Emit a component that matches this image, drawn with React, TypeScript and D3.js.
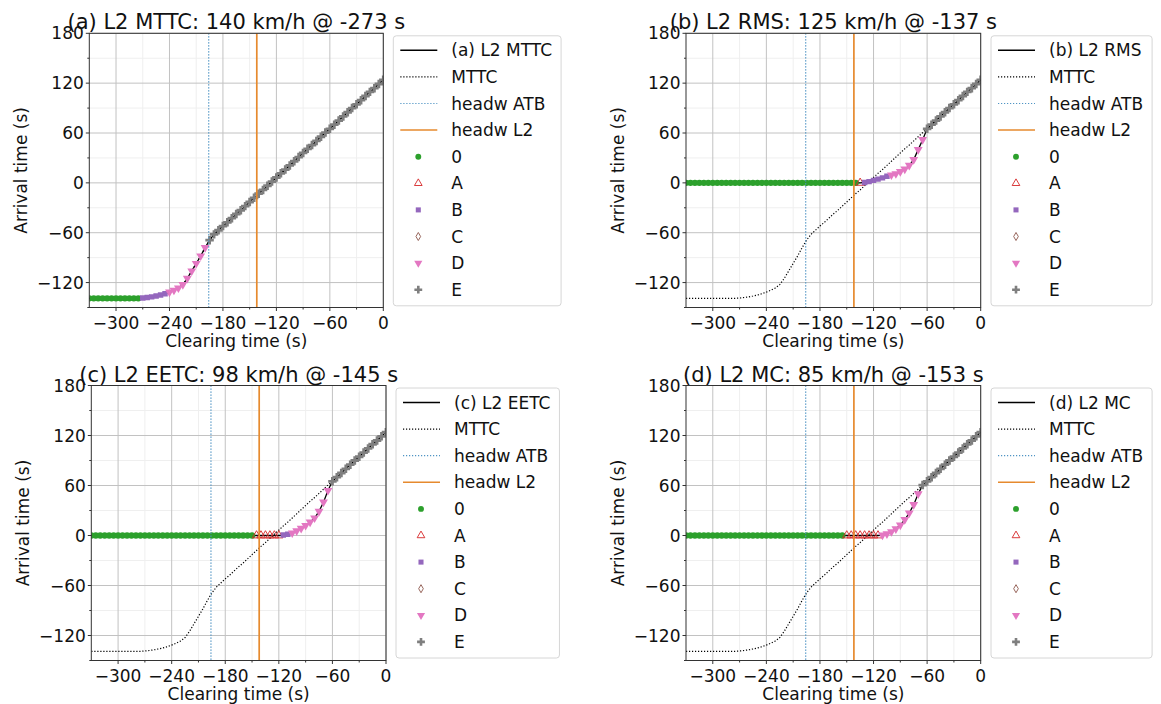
import React from 'react';
import * as d3 from 'd3';

const clearingTimes = [-330,-325,-320,-315,-310,-305,-300,-295,-290,-285,-280,-275,-270,-265,-260,-255,-250,-245,-240,-235,-230,-225,-220,-215,-210,-205,-200,-195,-190,-185,-180,-175,-170,-165,-160,-155,-150,-145,-140,-135,-130,-125,-120,-115,-110,-105,-100,-95,-90,-85,-80,-75,-70,-65,-60,-55,-50,-45,-40,-35,-30,-25,-20,-15,-10,-5,0];

const mttc = [-139,-139,-139,-139,-139,-139,-139,-139,-139,-139,-139,-139,-138.6,-138,-137.2,-136.2,-135,-133.4,-131.5,-129.2,-126.5,-122.5,-115,-106,-97,-88,-78,-69,-62,-57,-52,-47.5,-42.5,-37.5,-33,-28,-23,-18,-13,-8.5,-3.5,1.5,6.5,11.5,16,21,26,31,36,41,45.5,50.5,55.5,60.5,65,70,75,80,85,90,94.5,99.5,104.5,109.5,114,119,124];

const rms = [0,0,0,0,0,0,0,0,0,0,0,0,0,0,0,0,0,0,0,0,0,0,0,0,0,0,0,0,0,0,0,0,0,0,0,0,0,0,0,0,0.5,1.5,3,4.5,6,8,9.5,11,13.5,16.5,21,28,40,52,65,70,75,80,85,90,94.5,99.5,104.5,109.5,114,119,124];

const eetc = [0,0,0,0,0,0,0,0,0,0,0,0,0,0,0,0,0,0,0,0,0,0,0,0,0,0,0,0,0,0,0,0,0,0,0,0,0,0,0,0,0,0,0,0.5,1.5,3,5.5,8.5,12,16,21,29,40,54,65,70,75,80,85,90,94.5,99.5,104.5,109.5,114,119,124];

const mc = [0,0,0,0,0,0,0,0,0,0,0,0,0,0,0,0,0,0,0,0,0,0,0,0,0,0,0,0,0,0,0,0,0,0,0,0,0,0,0,0,0,0,0,0,0.5,2,4.5,8,12.5,19,27,37,50,60.5,65,70,75,80,85,90,94.5,99.5,104.5,109.5,114,119,124];

// stage of each point: [stage label, number of consecutive points]
const stagesA: [string, number][] = [['0', 12], ['B', 6], ['D', 9], ['E', 40]];
const stagesB: [string, number][] = [['0', 39], ['A', 1], ['B', 6], ['D', 8], ['E', 13]];
const stagesC: [string, number][] = [['0', 37], ['A', 6], ['B', 2], ['D', 9], ['E', 13]];
const stagesD: [string, number][] = [['0', 36], ['A', 8], ['D', 9], ['E', 14]];

const headwATB = -196;
const headwL2 = -142;

const xTicks = [-300, -240, -180, -120, -60, 0];
const xMinor = [-270, -210, -150, -90, -30];
const yTicks = [-120, -60, 0, 60, 120, 180];
const yMinor = [-150, -90, -30, 30, 90, 150];

const titles = [
  '(a) L2 MTTC: 140 km/h @ -273 s',
  '(b) L2 RMS: 125 km/h @ -137 s',
  '(c) L2 EETC: 98 km/h @ -145 s',
  '(d) L2 MC: 85 km/h @ -153 s',
];
const seriesNames = ['(a) L2 MTTC', '(b) L2 RMS', '(c) L2 EETC', '(d) L2 MC'];
const stageOrder = ['0', 'A', 'B', 'C', 'D', 'E'];

const FONT = '"DejaVu Sans", "Liberation Sans", sans-serif';

const stageStyle: Record<string, { type: any; size: number; fill: string; stroke: string; rot?: number }> = {
  '0': { type: d3.symbolCircle, size: 32, fill: '#2ca02c', stroke: 'none' },
  A: { type: d3.symbolTriangle, size: 30, fill: 'none', stroke: '#d62728' },
  B: { type: d3.symbolSquare, size: 30, fill: '#9467bd', stroke: 'none' },
  C: { type: d3.symbolDiamond, size: 22, fill: 'none', stroke: '#8c564b' },
  D: { type: d3.symbolTriangle, size: 34, fill: '#e377c2', stroke: 'none', rot: 180 },
  E: { type: d3.symbolCross, size: 40, fill: '#7f7f7f', stroke: 'none' },
};

function symbolPath(stage: string, scale = 1) {
  const s = stageStyle[stage];
  return d3.symbol().type(s.type).size(s.size * scale)() as string;
}

function Marker({ stage, cx, cy, scale = 1 }: { stage: string; cx: number; cy: number; scale?: number }) {
  const s = stageStyle[stage];
  return (
    <path
      d={symbolPath(stage, scale)}
      transform={`translate(${cx},${cy})${s.rot ? ` rotate(${s.rot})` : ''}`}
      fill={s.fill}
      stroke={s.stroke}
      strokeWidth={0.9}
    />
  );
}

function measure(s: string, size: number) {
  const ctx = document.createElement('canvas').getContext('2d');
  if (!ctx) return s.length * size * 0.6;
  ctx.font = `${size}px "DejaVu Sans"`;
  return ctx.measureText(s).width;
}

const LINE_COL = {
  series: '#000000',
  mttc: '#000000',
  atb: '#4f94c4',
  l2: '#e68a2e',
};

type PanelSpec = {
  x0: number; x1: number; y0: number; y1: number; lx: number;
  values: number[]; stages: [string, number][]; title: string; name: string;
};

function Panel({ p, idx }: { p: PanelSpec; idx: number }) {
  const x = d3.scaleLinear().domain([-330, 0]).range([p.x0, p.x1]);
  const y = d3.scaleLinear().domain([-150, 180]).range([p.y1, p.y0]);
  const line = d3.line<[number, number]>().x(d => x(d[0])).y(d => y(d[1]));
  const cats: string[] = [];
  p.stages.forEach(([c, n]) => { for (let i = 0; i < n; i++) cats.push(c); });
  const pts: [number, number][] = clearingTimes.map((t, i) => [t, p.values[i]]);
  const mPts: [number, number][] = clearingTimes.map((t, i) => [t, mttc[i]]);
  const clipId = `clip${idx}`;
  const cxm = (p.x0 + p.x1) / 2;
  const cym = (p.y0 + p.y1) / 2;

  const legendItems = [p.name, 'MTTC', 'headw ATB', 'headw L2', ...stageOrder];
  const fs = 17;
  const maxW = Math.max(...legendItems.map(s => measure(s, fs)));
  const lw = 58 + maxW + 9;
  const ltop = p.y0 + 2.5;
  const lh = 270;
  const rowY = (i: number) => ltop + 14.5 + i * 26.6;

  return (
    <g>
      <defs>
        <clipPath id={clipId}>
          <rect x={p.x0} y={p.y0} width={p.x1 - p.x0} height={p.y1 - p.y0} />
        </clipPath>
      </defs>
      {/* minor grid */}
      {xMinor.map(v => (
        <line key={'xm' + v} x1={x(v)} x2={x(v)} y1={p.y0} y2={p.y1} stroke="#efefef" strokeWidth={1} />
      ))}
      {yMinor.map(v => (
        <line key={'ym' + v} x1={p.x0} x2={p.x1} y1={y(v)} y2={y(v)} stroke="#efefef" strokeWidth={1} />
      ))}
      {/* major grid */}
      {xTicks.map(v => (
        <line key={'xg' + v} x1={x(v)} x2={x(v)} y1={p.y0} y2={p.y1} stroke="#c2c2c2" strokeWidth={1} />
      ))}
      {yTicks.map(v => (
        <line key={'yg' + v} x1={p.x0} x2={p.x1} y1={y(v)} y2={y(v)} stroke="#c2c2c2" strokeWidth={1} />
      ))}
      <g clipPath={`url(#${clipId})`}>
        <path d={line(mPts) as string} fill="none" stroke={LINE_COL.mttc} strokeWidth={1.2} strokeDasharray="1.2,1.8" />
        <path d={line(pts) as string} fill="none" stroke={LINE_COL.series} strokeWidth={1.3} />
        {stageOrder.map(st =>
          pts.map((d, i) => (cats[i] === st ? <Marker key={st + i} stage={st} cx={x(d[0])} cy={y(d[1])} /> : null))
        )}
        <line x1={x(headwATB)} x2={x(headwATB)} y1={p.y0} y2={p.y1} stroke={LINE_COL.atb} strokeWidth={1.3} strokeDasharray="1.3,1.7" />
        <line x1={x(headwL2)} x2={x(headwL2)} y1={p.y0} y2={p.y1} stroke={LINE_COL.l2} strokeWidth={1.7} />
      </g>
      {/* spines */}
      <rect x={p.x0} y={p.y0} width={p.x1 - p.x0} height={p.y1 - p.y0} fill="none" stroke="#333" strokeWidth={1} />
      {/* ticks */}
      {xTicks.map(v => (
        <g key={'xt' + v}>
          <line x1={x(v)} x2={x(v)} y1={p.y1} y2={p.y1 + 3.5} stroke="#333" strokeWidth={1} />
          <text x={x(v)} y={p.y1 + 21.5} textAnchor="middle" fontSize={17} fontFamily={FONT} fill="#111">
            {v < 0 ? '\u2212' + Math.abs(v) : String(v)}
          </text>
        </g>
      ))}
      {xMinor.map(v => (
        <line key={'xmt' + v} x1={x(v)} x2={x(v)} y1={p.y1} y2={p.y1 + 2} stroke="#333" strokeWidth={1} />
      ))}
      {yTicks.map(v => (
        <g key={'yt' + v}>
          <line x1={p.x0 - 3.5} x2={p.x0} y1={y(v)} y2={y(v)} stroke="#333" strokeWidth={1} />
          <text x={p.x0 - 5.5} y={y(v)} dy="0.36em" textAnchor="end" fontSize={17} fontFamily={FONT} fill="#111">
            {v < 0 ? '\u2212' + Math.abs(v) : String(v)}
          </text>
        </g>
      ))}
      {yMinor.map(v => (
        <line key={'ymt' + v} x1={p.x0 - 2} x2={p.x0} y1={y(v)} y2={y(v)} stroke="#333" strokeWidth={1} />
      ))}
      {/* labels */}
      <text x={cxm} y={p.y1 + 39.5} textAnchor="middle" fontSize={17} fontFamily={FONT} fill="#111">Clearing time (s)</text>
      <text transform={`translate(${p.x0 - 62},${cym}) rotate(-90)`} textAnchor="middle" fontSize={17} fontFamily={FONT} fill="#111">Arrival time (s)</text>
      <text x={cxm} y={p.y0 - 4} textAnchor="middle" fontSize={21} fontFamily={FONT} fill="#111">{p.title}</text>
      {/* legend */}
      <rect x={p.lx} y={ltop} width={lw} height={lh} rx={3} fill="#fff" fillOpacity={0.9} stroke="#d6d6d6" strokeWidth={1} />
      <line x1={p.lx + 7} x2={p.lx + 44} y1={rowY(0)} y2={rowY(0)} stroke={LINE_COL.series} strokeWidth={1.5} />
      <line x1={p.lx + 7} x2={p.lx + 44} y1={rowY(1)} y2={rowY(1)} stroke={LINE_COL.mttc} strokeWidth={1.2} strokeDasharray="1.2,1.8" />
      <line x1={p.lx + 7} x2={p.lx + 44} y1={rowY(2)} y2={rowY(2)} stroke={LINE_COL.atb} strokeWidth={1.2} strokeDasharray="1.2,1.8" />
      <line x1={p.lx + 7} x2={p.lx + 44} y1={rowY(3)} y2={rowY(3)} stroke={LINE_COL.l2} strokeWidth={1.5} />
      {stageOrder.map((st, i) => (
        <Marker key={'lg' + st} stage={st} cx={p.lx + 25} cy={rowY(4 + i)} scale={0.85} />
      ))}
      {legendItems.map((s, i) => (
        <text key={'lt' + i} x={p.lx + 58} y={rowY(i)} dy="0.36em" fontSize={fs} fontFamily={FONT} fill="#111">{s}</text>
      ))}
    </g>
  );
}

export default function App() {
  const panels: PanelSpec[] = [
    { x0: 89.3, x1: 383.3, y0: 33.3, y1: 307.5, lx: 393.3, values: mttc, stages: stagesA, title: titles[0], name: seriesNames[0] },
    { x0: 686, x1: 980.7, y0: 33.3, y1: 307.5, lx: 991, values: rms, stages: stagesB, title: titles[1], name: seriesNames[1] },
    { x0: 91.3, x1: 386, y0: 385.5, y1: 660.5, lx: 396, values: eetc, stages: stagesC, title: titles[2], name: seriesNames[2] },
    { x0: 686, x1: 980.7, y0: 385.5, y1: 660.5, lx: 991, values: mc, stages: stagesD, title: titles[3], name: seriesNames[3] },
  ];
  return (
    <svg
      width={1161}
      height={704}
      style={{ position: 'absolute', left: 0, top: 0, background: '#fff' }}
      xmlns="http://www.w3.org/2000/svg"
    >
      <rect x={0} y={0} width={1161} height={704} fill="#fff" />
      {panels.map((p, i) => (
        <Panel key={i} p={p} idx={i} />
      ))}
    </svg>
  );
}
